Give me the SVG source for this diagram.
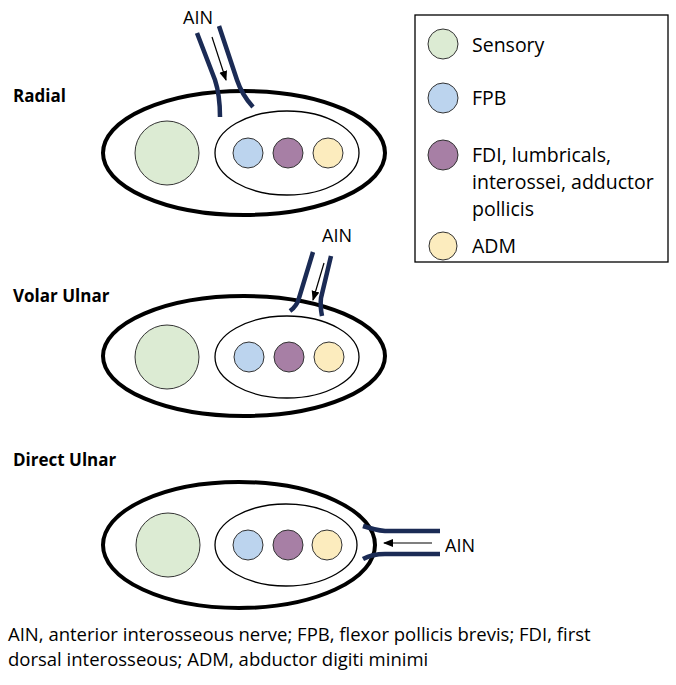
<svg xmlns="http://www.w3.org/2000/svg" width="676" height="685" viewBox="0 0 676 685">
<style>
text{font-family:"Open Sans","Liberation Sans",sans-serif;fill:#000}
.t{font-size:17px;font-weight:bold}
.l{font-size:19.5px}
.o{fill:none;stroke:#000;stroke-width:4}
.i{fill:none;stroke:#000;stroke-width:1.3}
.c{stroke:#333;stroke-width:1}
.n{fill:none;stroke:#1b2b55;stroke-width:4.5}
.a{stroke:#000;stroke-width:1.2;fill:none;marker-end:url(#ar)}
.g{fill:#dcebd3}.b{fill:#bcd4ee}.p{fill:#a77fa5}.y{fill:#fcecbe}
</style>
<defs><marker id="ar" markerWidth="10" markerHeight="10" refX="9" refY="5" orient="auto" markerUnits="userSpaceOnUse"><path d="M0,1 L10,5 L0,9z" fill="#000"/></marker></defs>
<rect width="676" height="685" fill="#fff"/>
<g id="radial">
<text class="t" x="13" y="102">Radial</text>
<ellipse class="o" cx="244" cy="153" rx="141" ry="62"/>
<ellipse class="i" cx="287" cy="153" rx="72" ry="42"/>
<circle class="c g" cx="167" cy="153" r="32"/>
<circle class="c b" cx="248" cy="153" r="15"/>
<circle class="c p" cx="288" cy="153" r="15"/>
<circle class="c y" cx="328" cy="153" r="15"/>
</g>
<g id="volar">
<text class="t" x="13" y="302">Volar Ulnar</text>
<ellipse class="o" cx="244" cy="356" rx="141" ry="60"/>
<ellipse class="i" cx="287" cy="357" rx="72" ry="41"/>
<circle class="c g" cx="167" cy="357" r="32"/>
<circle class="c b" cx="249" cy="357" r="15"/>
<circle class="c p" cx="289" cy="357" r="15"/>
<circle class="c y" cx="329" cy="357" r="15"/>
</g>
<g id="direct">
<text class="t" x="13" y="466">Direct Ulnar</text>
<ellipse class="o" cx="239" cy="545" rx="136" ry="63"/>
<ellipse class="i" cx="286" cy="545" rx="71" ry="41"/>
<circle class="c g" cx="168" cy="545" r="32"/>
<circle class="c b" cx="248" cy="545" r="15"/>
<circle class="c p" cx="288" cy="545" r="15"/>
<circle class="c y" cx="327" cy="545" r="15"/>
</g>
<g id="connectors">
<text x="183" y="24" font-size="18">AIN</text>
<path class="n" d="M197,33 L215,80 Q220,95 220,117"/>
<path class="n" d="M219,26 L237,80 Q242,95 253,107"/>
<line class="a" x1="212" y1="37" x2="226" y2="80"/>
<text x="322" y="242" font-size="18">AIN</text>
<path class="n" d="M313,252 L299,298 Q297,306 290,311"/>
<path class="n" d="M331,256 L321,298 Q320,306 322,316"/>
<line class="a" x1="324" y1="263" x2="313" y2="300"/>
<text x="445" y="552" font-size="18">AIN</text>
<path class="n" d="M363,526 Q375,530 385,531 L440,531"/>
<path class="n" d="M363,559 Q372,554 385,554 L440,554"/>
<line class="a" x1="432" y1="543" x2="384" y2="543"/>
</g>
<g id="legend">
<rect x="415" y="15" width="253" height="247" fill="none" stroke="#000" stroke-width="1.3"/>
<circle class="c g" cx="443" cy="44" r="15"/>
<text class="l" x="472" y="52">Sensory</text>
<circle class="c b" cx="443" cy="98" r="15"/>
<text class="l" x="472" y="105">FPB</text>
<circle class="c p" cx="443" cy="155" r="15"/>
<text class="l" x="472" y="162">FDI, lumbricals,</text>
<text class="l" x="472" y="189">interossei, adductor</text>
<text class="l" x="472" y="216">pollicis</text>
<circle class="c y" cx="443" cy="246" r="14"/>
<text class="l" x="472" y="253">ADM</text>
</g>
<text x="8" y="641" font-size="18.5">AIN, anterior interosseous nerve; FPB, flexor pollicis brevis; FDI, first</text>
<text x="8" y="666" font-size="18.5">dorsal interosseous; ADM, abductor digiti minimi</text>
</svg>
